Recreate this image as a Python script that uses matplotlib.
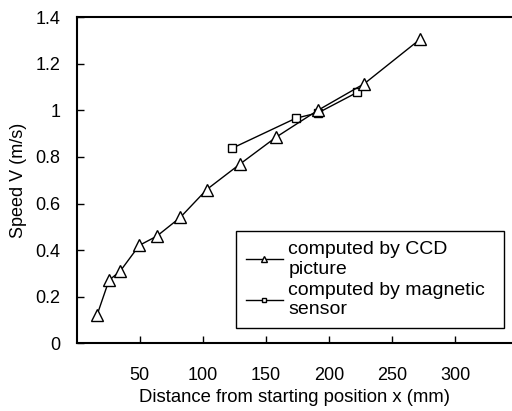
import matplotlib.pyplot as plt

plt.rcParams['font.family'] = ['Liberation Sans', 'DejaVu Sans']

# data
ccd_x = [16, 25.5, 34.5, 49.5, 63.5, 82, 103, 129.5, 158, 191, 228, 272]
ccd_v = [0.12, 0.27, 0.31, 0.42, 0.46, 0.54, 0.66, 0.77, 0.885, 1.0, 1.115, 1.305]
mag_x = [123, 173.5, 191.5, 222.5]
mag_v = [0.837, 0.966, 0.99, 1.078]

x_ticks = [50, 100, 150, 200, 250, 300]
y_ticks = [0, 0.2, 0.4, 0.6, 0.8, 1.0, 1.2, 1.4]
y_labels = ['0', '0.2', '0.4', '0.6', '0.8', '1', '1.2', '1.4']

fig = plt.figure(figsize=(5.12, 4.11), dpi=100)
ax = fig.add_axes([0.150, 0.165, 0.85, 0.793])

ax.plot(mag_x, mag_v, color='black', lw=1, marker='s', markersize=6,
        markerfacecolor='white', markeredgecolor='black', zorder=2,
        label='computed by magnetic\nsensor')
ax.plot(ccd_x, ccd_v, color='black', lw=1, marker='^', markersize=8,
        markerfacecolor='white', markeredgecolor='black', zorder=3,
        label='computed by CCD\npicture')

ax.set_xlim(0, 345)
ax.set_ylim(0, 1.4)
ax.set_xticks(x_ticks)
ax.set_yticks(y_ticks)
ax.set_yticklabels(y_labels)
ax.tick_params(direction='in', length=5, width=1, labelsize=13)
ax.tick_params(axis='y', pad=12)
ax.tick_params(axis='x', pad=17)

for s in ['left', 'bottom', 'top']:
    ax.spines[s].set_linewidth(1.5)
ax.spines['right'].set_visible(False)

ax.set_xlabel('Distance from starting position x (mm)', fontsize=13.3, labelpad=4)
ax.set_ylabel('Speed V (m/s)', fontsize=13, labelpad=6)

h, l = ax.get_legend_handles_labels()
leg = ax.legend(h[::-1], l[::-1], loc='lower left',
                bbox_to_anchor=(236 / 512, 1 - 328 / 411, 268 / 512, 97 / 411),
                bbox_transform=fig.transFigure, mode='expand', borderaxespad=0,
                fontsize=14, handlelength=1.9, handletextpad=0.3,
                labelspacing=0.2, borderpad=0.5, fancybox=False,
                framealpha=1, edgecolor='black', markerscale=0.6)
leg.get_frame().set_linewidth(1)

fig.savefig('out.png', dpi=100)
